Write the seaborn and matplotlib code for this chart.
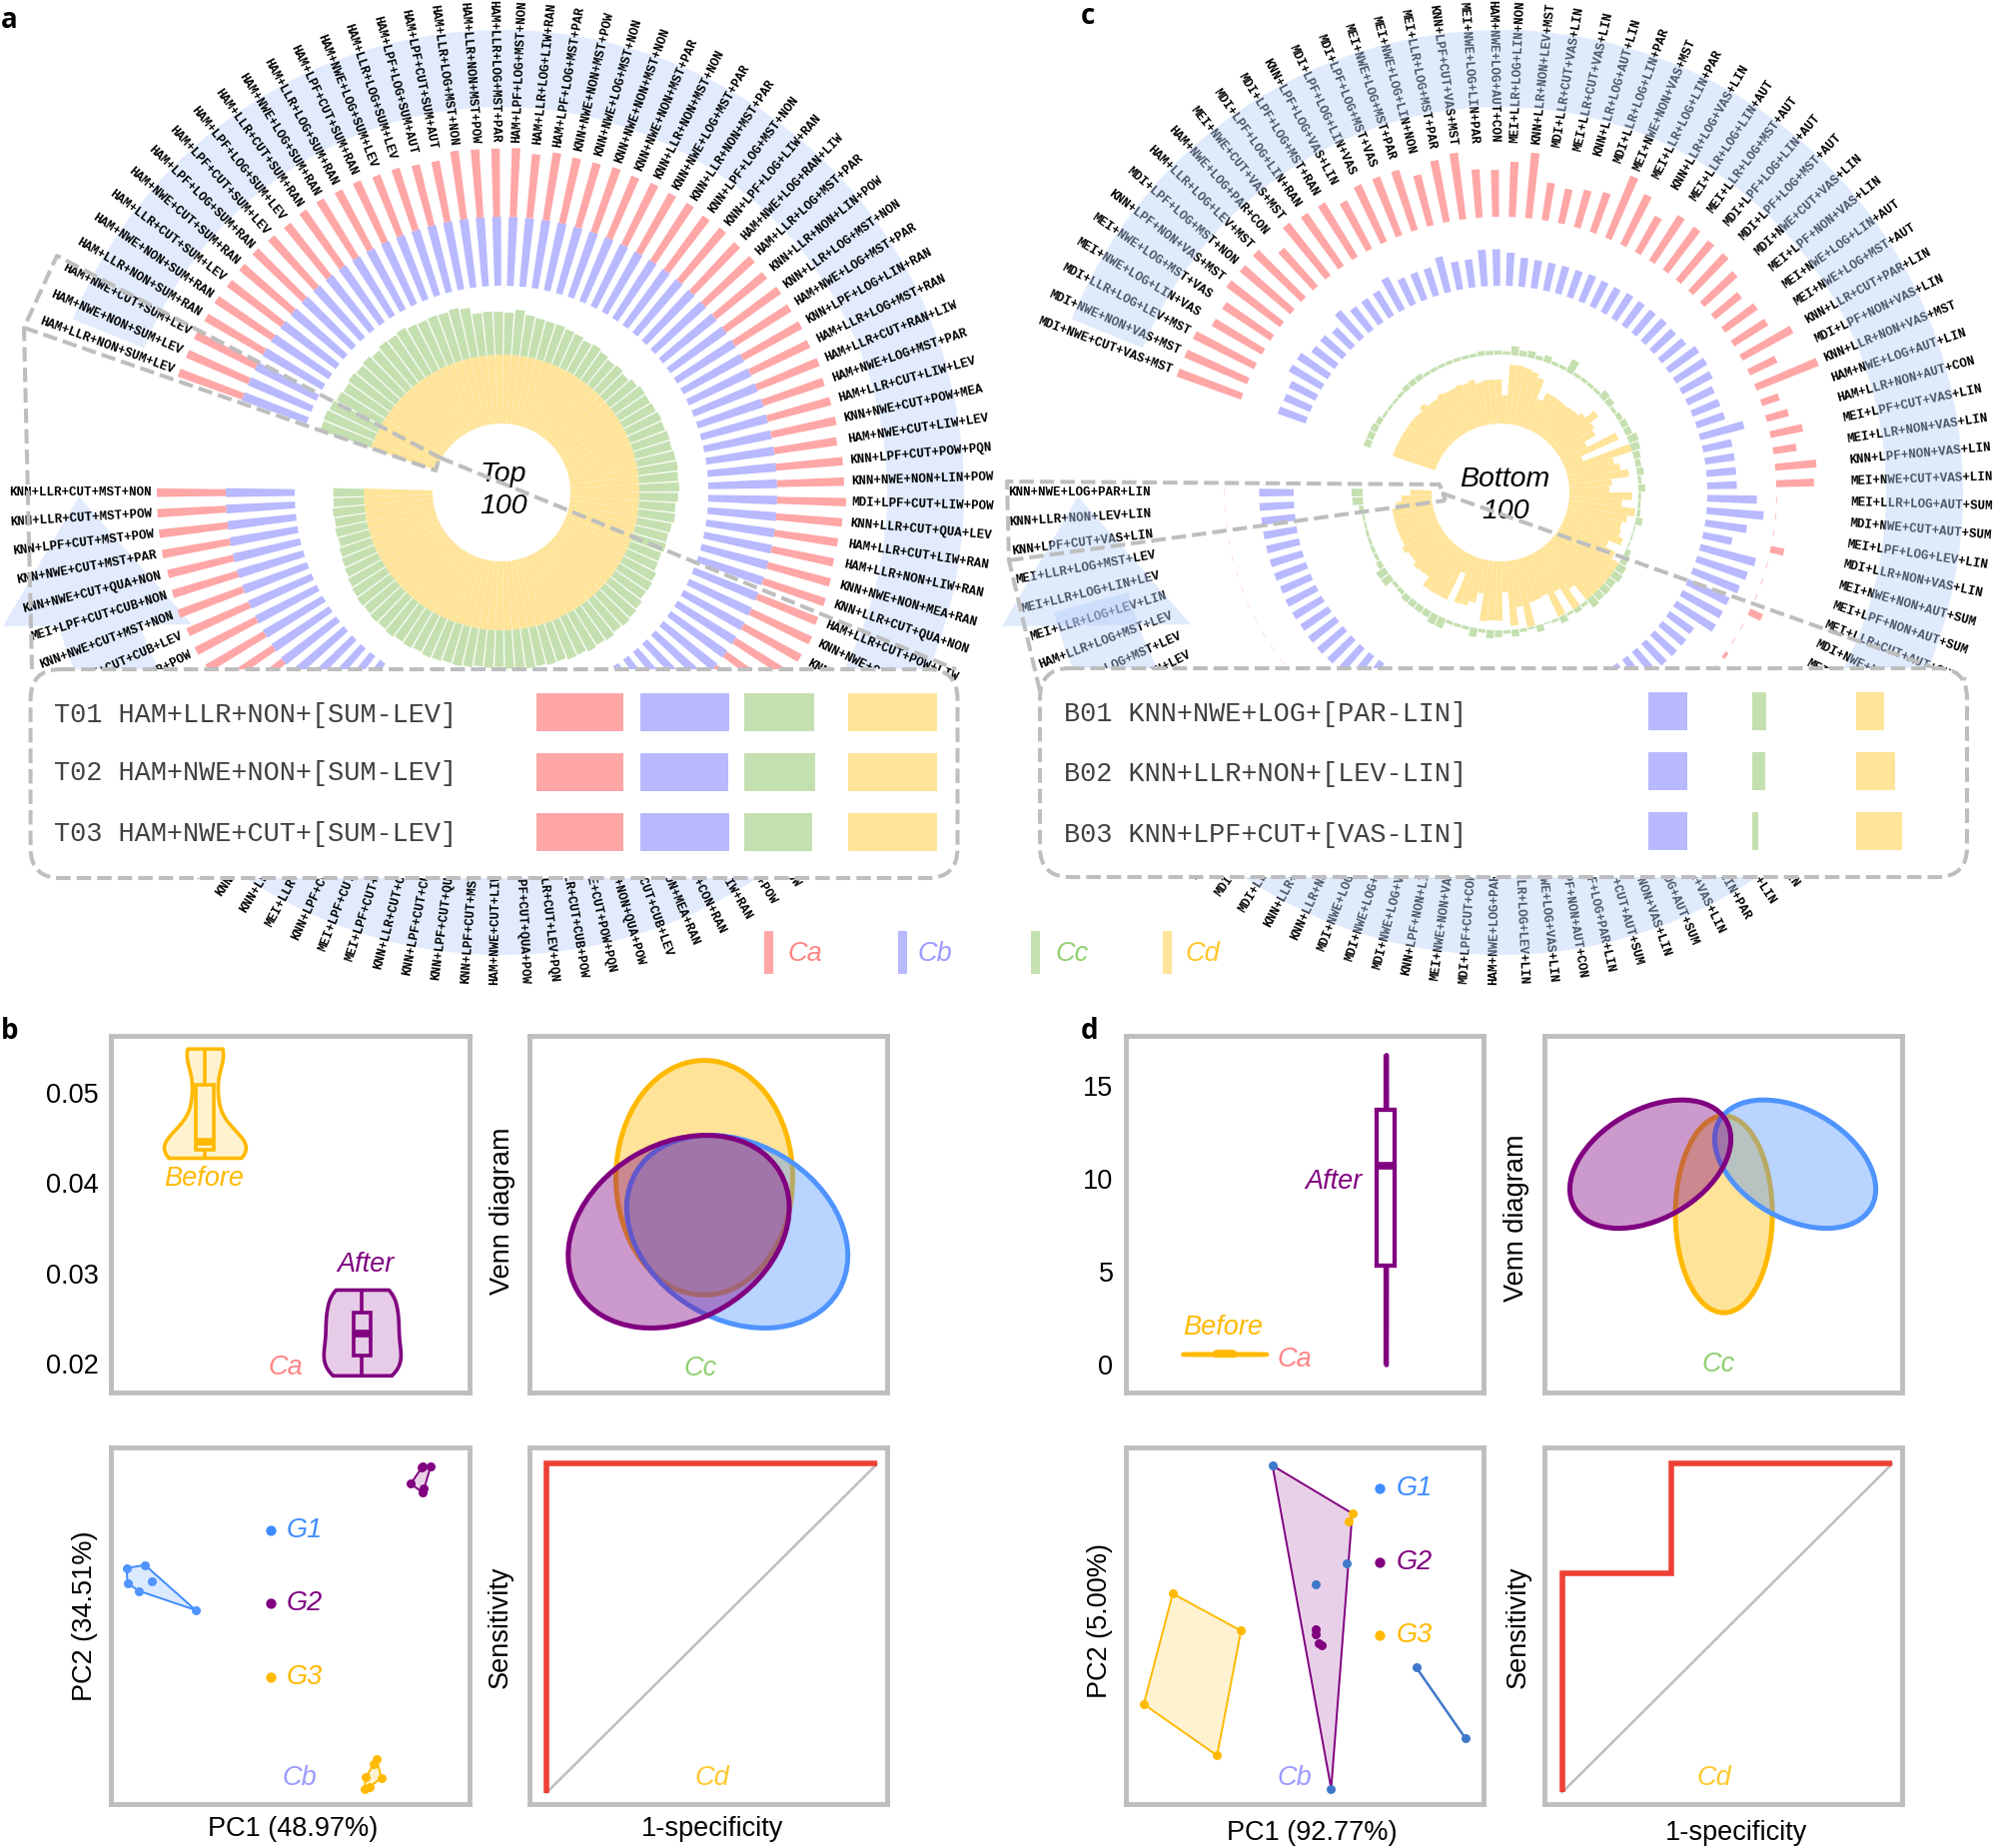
import numpy as np
import pandas as pd
import seaborn as sns
import matplotlib
matplotlib.use("Agg")
import matplotlib.pyplot as plt
from matplotlib.patches import Ellipse, FancyBboxPatch, Rectangle

# ---------------------------------------------------------------- data
a_labels = [
 "HAM+LLR+NON+SUM+LEV","HAM+NWE+NON+SUM+LEV","HAM+NWE+CUT+SUM+LEV","HAM+LLR+NON+SUM+RAN","HAM+NWE+NON+SUM+RAN",
 "HAM+LLR+CUT+SUM+LEV","HAM+NWE+CUT+SUM+RAN","HAM+LPF+LOG+SUM+RAN","HAM+LPF+CUT+SUM+LEV","HAM+LPF+LOG+SUM+LEV",
 "HAM+LLR+CUT+SUM+RAN","HAM+NWE+LOG+SUM+RAN","HAM+LLR+LOG+SUM+RAN","HAM+LPF+CUT+SUM+RAN","HAM+NWE+LOG+SUM+LEV",
 "HAM+LLR+LOG+SUM+LEV","HAM+LPF+LOG+SUM+AUT","HAM+LPF+CUT+SUM+AUT","HAM+LLR+LOG+MST+NON","HAM+LLR+NON+MST+POW",
 "HAM+LLR+LOG+MST+PAR","HAM+LPF+LOG+MST+NON","HAM+LLR+LOG+LIW+RAN","HAM+LPF+LOG+MST+PAR","KNN+NWE+NON+MST+POW",
 "KNN+NWE+LOG+MST+NON","KNN+NWE+NON+MST+NON","KNN+NWE+NON+MST+PAR","KNN+LLR+NON+MST+NON","KNN+NWE+LOG+MST+PAR",
 "KNN+LLR+NON+MST+PAR","KNN+LPF+LOG+MST+NON","KNN+LPF+LOG+LIW+RAN","HAM+NWE+LOG+RAN+LIW","HAM+LLR+LOG+MST+PAR",
 "KNN+LLR+NON+LIN+POW","KNN+LLR+LOG+MST+NON","HAM+NWE+LOG+MST+PAR","KNN+LPF+LOG+LIN+RAN","HAM+LLR+LOG+MST+RAN",
 "HAM+LLR+CUT+RAN+LIW","HAM+NWE+LOG+MST+PAR","HAM+LLR+CUT+LIW+LEV","KNN+NWE+CUT+POW+MEA","HAM+NWE+CUT+LIW+LEV",
 "KNN+LPF+CUT+POW+PQN","KNN+NWE+NON+LIN+POW","MDI+LPF+CUT+LIW+POW","KNN+LLR+CUT+QUA+LEV","HAM+LLR+CUT+LIW+RAN",
 "HAM+LLR+NON+LIW+RAN","KNN+NWE+NON+MEA+RAN","KNN+LLR+CUT+QUA+NON","HAM+LLR+CUT+POW+LIW","KNN+NWE+CUT+POW+LIW",
 "KNN+LPF+NON+MEA+RAN","KNN+LLR+NON+MEA+POW","KNN+NWE+CUT+MEA+RAN","KNN+LPF+CUT+LEV+RAN","KNN+LLR+CUT+MEA+RAN",
 "KNN+NWE+CUT+LEV+POW","KNN+LPF+CUT+QUA+RAN","KNN+LLR+CUT+LIW+POW","KNN+NWE+CUT+LIW+POW","KNN+LLR+CUT+LIW+RAN",
 "KNN+NWE+CUT+CON+RAN","KNN+LPF+NON+MEA+RAN","KNN+NWE+CUT+CUB+LEV","KNN+NWE+NON+QUA+POW","KNN+NWE+CUT+POW+PQN",
 "KNN+LLR+CUT+CUB+POW","KNN+LLR+CUT+LEV+PQN","KNN+LPF+CUT+QUA+POW","HAM+NWE+CUT+LIW+LEV","KNN+LPF+CUT+MST+LEV",
 "KNN+LPF+CUT+QUA+LEV","KNN+LPF+CUT+CUB+LEV","KNN+LLR+CUT+CUB+NON","MEI+LPF+CUT+QUA+NON","MEI+LPF+CUT+CUB+LEV",
 "KNN+LPF+CUT+CUB+NON","MEI+LLR+CUT+QUA+LEV","KNN+LLR+CUT+QUA+POW","KNN+LLR+CUT+MST+LEV","KNN+NWE+CUT+QUA+LEV",
 "MEI+NWE+CUT+QUA+NON","KNN+LPF+CUT+QUA+NON","MEI+LLR+CUT+CUB+NON","KNN+NWE+CUT+CUB+NON","MEI+NWE+CUT+CUB+LEV",
 "MEI+LPF+CUT+MST+NON","KNN+LPF+CUT+CUB+POW","KNN+NWE+CUT+CUB+LEV","KNN+NWE+CUT+MST+NON","MEI+LPF+CUT+CUB+NON",
 "KNN+NWE+CUT+QUA+NON","KNN+NWE+CUT+MST+PAR","KNN+LPF+CUT+MST+POW","KNN+LLR+CUT+MST+POW","KNN+LLR+CUT+MST+NON",
]
a_Ca = [.99,.98,.99,.98,.99,.98,.99,1.0,.98,.97,
        .99,.99,.97,.97,.94,.94,.91,.90,1.0,.99,
        .99,1.0,.93,.99,.97,.97,.99,.97,.99,.98,
        .99,.97,.98,.96,.97,.95,.98,.96,.97,.95,
        .97,.94,.95,.96,.92,.97,.97,1.0,.96,.93,
        .92,.94,.95,.94,.97,.95,.95,.94,.96,.97,
        .95,.96,.94,.97,.95,.96,.94,.95,.97,.96,
        .95,.96,.94,.97,.96,.95,.97,.94,.96,.95,
        .97,.96,.95,.97,.96,.94,.97,.96,.95,.98,
        .97,.99,.98,1.0,.99,.98,1.0,1.0,1.0,1.0]
a_Cb = [1.0,1.0,1.0,1.0,1.0,1.0,1.0,1.0,1.0,1.0,
        1.0,1.0,1.0,1.0,1.0,1.0,1.0,1.0,1.0,1.0,
        1.0,1.0,1.0,1.0,1.0,1.0,1.0,1.0,1.0,1.0,
        1.0,1.0,1.0,1.0,1.0,1.0,1.0,1.0,1.0,1.0,
        1.0,1.0,1.0,1.0,1.0,1.0,1.0,1.0,1.0,1.0,
        1.0,1.0,1.0,1.0,1.0,1.0,1.0,1.0,1.0,1.0,
        1.0,1.0,1.0,1.0,1.0,1.0,1.0,1.0,1.0,1.0,
        1.0,1.0,1.0,1.0,1.0,1.0,1.0,1.0,1.0,1.0,
        1.0,1.0,1.0,1.0,1.0,1.0,1.0,1.0,1.0,1.0,
        1.0,1.0,1.0,1.0,1.0,1.0,1.0,1.0,1.0,1.0]
a_Cc = [.78,.79,.77,.74,.72,.75,.73,.75,.72,.76,
        .75,.77,.74,.73,.74,.73,.75,.72,.62,.63,
        .62,.61,.66,.60,.58,.57,.57,.55,.54,.51,
        .53,.50,.47,.49,.46,.50,.53,.52,.53,.55,
        .54,.56,.55,.57,.58,.57,.58,.56,.53,.54,
        .51,.49,.50,.48,.49,.53,.55,.54,.58,.60,
        .62,.60,.63,.61,.63,.60,.61,.58,.59,.57,
        .58,.55,.56,.53,.55,.54,.57,.59,.58,.60,
        .61,.59,.61,.60,.62,.60,.61,.59,.60,.58,
        .56,.53,.51,.49,.46,.47,.45,.46,.44,.44]
a_Cd = [1.0,1.0,1.0,1.0,1.0,1.0,1.0,1.0,1.0,1.0,
        1.0,1.0,1.0,1.0,1.0,1.0,1.0,1.0,1.0,1.0,
        1.0,1.0,1.0,1.0,1.0,1.0,1.0,1.0,1.0,1.0,
        1.0,1.0,1.0,1.0,1.0,1.0,1.0,1.0,1.0,1.0,
        1.0,1.0,1.0,1.0,1.0,1.0,1.0,1.0,1.0,1.0,
        1.0,1.0,1.0,1.0,1.0,1.0,1.0,1.0,1.0,1.0,
        1.0,1.0,1.0,1.0,1.0,1.0,1.0,1.0,1.0,1.0,
        1.0,1.0,1.0,1.0,1.0,1.0,1.0,1.0,1.0,1.0,
        1.0,1.0,1.0,1.0,1.0,1.0,1.0,1.0,1.0,1.0,
        1.0,1.0,1.0,1.0,1.0,1.0,1.0,1.0,1.0,1.0]

c_labels = [
 "MDI+NWE+CUT+VAS+MST","MDI+NWE+NON+VAS+MST","MDI+LLR+LOG+LEV+MST","MEI+NWE+LOG+LIN+VAS","MEI+NWE+LOG+MST+VAS",
 "KNN+LPF+NON+VAS+MST","MDI+LPF+LOG+MST+NON","HAM+LLR+LOG+LEV+MST","HAM+NWE+LOG+PAR+CON","MEI+NWE+CUT+VAS+MST",
 "MDI+LPF+LOG+LIN+RAN","MDI+LPF+LOG+MST+RAN","KNN+LPF+LOG+VAS+LIN","MDI+LPF+LOG+LIN+VAS","MDI+LPF+LOG+MST+VAS",
 "MEI+NWE+LOG+MST+PAR","MEI+NWE+LOG+LIN+NON","MEI+LLR+LOG+MST+PAR","KNN+LPF+CUT+VAS+MST","MEI+NWE+LOG+LIN+PAR",
 "HAM+NWE+LOG+AUT+CON","MEI+LLR+LOG+LIN+NON","KNN+LLR+NON+LEV+MST","MDI+LLR+CUT+VAS+LIN","MEI+LLR+CUT+VAS+LIN",
 "KNN+LLR+LOG+AUT+LIN","MDI+LLR+LOG+LIN+PAR","MEI+NWE+NON+VAS+MST","MEI+LLR+LOG+LIN+PAR","KNN+LLR+LOG+VAS+LIN",
 "MEI+LLR+LOG+LIN+AUT","MEI+LLR+LOG+MST+AUT","MDI+LPF+LOG+LIN+AUT","MDI+LPF+LOG+MST+AUT","MDI+NWE+CUT+VAS+LIN",
 "MEI+LPF+NON+VAS+LIN","MEI+NWE+LOG+LIN+AUT","MEI+NWE+LOG+MST+AUT","KNN+LLR+CUT+PAR+LIN","MDI+LPF+NON+VAS+LIN",
 "KNN+LLR+NON+VAS+MST","HAM+NWE+LOG+AUT+LIN","HAM+LLR+NON+AUT+CON","MEI+LPF+CUT+VAS+LIN","MEI+LLR+NON+VAS+LIN",
 "KNN+LPF+NON+VAS+LIN","MEI+NWE+CUT+VAS+LIN","MEI+LLR+LOG+AUT+SUM","MDI+NWE+CUT+AUT+SUM","MEI+LPF+LOG+LEV+LIN",
 "MDI+LLR+NON+VAS+LIN","MEI+NWE+NON+AUT+SUM","MEI+LPF+NON+AUT+SUM","MEI+LLR+CUT+AUT+SUM","MDI+NWE+NON+AUT+SUM",
 "MEI+NWE+LOG+AUT+SUM","MDI+LPF+NON+AUT+SUM","MDI+LLR+NON+AUT+SUM","MEI+LLR+NON+AUT+SUM","MDI+LPF+CUT+AUT+SUM",
 "MEI+LPF+CUT+AUT+SUM","MDI+LLR+LOG+AUT+SUM","MEI+NWE+LOG+VAS+LIN","MEI+LLR+LOG+VAS+LIN","MDI+LLR+LOG+LIN+PAR",
 "KNN+LLR+NON+VAS+LIN","MEI+NWE+LOG+AUT+SUM","MEI+NWE+NON+VAS+LIN","MDI+LLR+CUT+AUT+SUM","MDI+LPF+LOG+PAR+LIN",
 "MDI+LPF+NON+AUT+CON","MEI+NWE+LOG+VAS+LIN","MEI+LLR+LOG+LEV+LIN","HAM+NWE+LOG+PAR+LIN","MDI+LPF+CUT+CON+LIN",
 "MEI+NWE+NON+VAS+PAR","KNN+LPF+NON+LIN+VAS","MDI+NWE+LOG+VAS+PAR","MDI+NWE+LOG+LEV+PAR","MDI+NWE+LOG+LIN+PAR",
 "KNN+LLR+NON+PAR+LIN","KNN+LLR+LOG+PAR+LIN","MDI+LLR+NON+LIN+SUM","MDI+LLR+CUT+LEV+LIN","MEI+LPF+NON+LEV+LIN",
 "KNN+LPF+NON+LEV+LIN","MDI+NWE+LOG+PAR+LEV","MEI+LPF+LOG+PAR+LIN","KNN+LPF+LOG+LEV+LIN","MDI+LPF+LOG+PAR+LEV",
 "KNN+LLR+LOG+LIN+NON","MDI+LPF+LOG+LIN+LEV","MDI+LPF+LOG+MST+LEV","HAM+LLR+LOG+MST+LEV","MEI+LLR+LOG+LEV+LIN",
 "MEI+LLR+LOG+LIN+LEV","MEI+LLR+LOG+MST+LEV","KNN+LPF+CUT+VAS+LIN","KNN+LLR+NON+LEV+LIN","KNN+NWE+LOG+PAR+LIN",
]
c_Ca = [.99,.99,.99,.84,.84,.97,.96,.97,.74,.97,
        .93,.92,.79,.91,.91,.91,.76,.91,.97,.70,
        .68,.80,.95,.55,.51,.56,.61,.97,.81,.60,
        .78,.77,.74,.74,.65,.50,.58,.58,.84,.44,
        .97,.27,.33,.48,.34,.60,.55,.01,.01,.01,
        .20,.01,.01,.01,.20,.01,.01,.05,.01,.01,
        .01,.03,.01,.01,.01,.01,.01,.01,.01,.01,
        .005,.005,.005,.005,.005,.005,.005,.005,.005,.005,
        .005,.005,.005,.005,.005,.005,.005,.005,.005,.005,
        .005,.005,.005,.005,.005,.005,.005,.005,.005,.005]
c_Cb = [.43,.42,.43,.54,.53,.42,.42,.37,.52,.42,
        .42,.42,.53,.42,.42,.42,.53,.41,.41,.53,
        .53,.48,.42,.41,.41,.41,.41,.42,.41,.41,
        .43,.43,.43,.44,.43,.45,.53,.53,.50,.43,
        .43,.43,.66,.43,.43,.43,.43,.72,.83,.61,
        .43,.83,.77,.73,.66,.66,.67,.43,.44,.44,
        .43,.44,.43,.43,.44,.43,.43,.44,.43,.43,
        .44,.43,.43,.44,.43,.45,.44,.45,.46,.45,
        .46,.47,.47,.48,.48,.49,.48,.49,.49,.48,
        .49,.49,.48,.49,.49,.49,.49,.49,.50,.50]
c_Cc = [.10,.10,.10,.08,.04,.04,.04,.05,.08,.08,
        .08,.05,.05,.05,.05,.05,.05,.05,.07,.06,
        .06,.05,.13,.08,.10,.06,.10,.05,.05,.20,
        .05,.05,.05,.05,.12,.10,.05,.08,.10,.10,
        .15,.13,.10,.08,.10,.05,.10,.04,.04,.05,
        .10,.02,.02,.02,.08,.10,.13,.15,.12,.13,
        .12,.15,.05,.07,.04,.10,.04,.02,.10,.03,
        .05,.10,.05,.10,.12,.05,.13,.05,.05,.05,
        .15,.15,.10,.10,.10,.10,.06,.05,.15,.15,
        .08,.05,.05,.04,.04,.03,.03,.065,.15,.16]
c_Cd = [.65,.65,.65,.65,.65,.65,.65,.64,.70,.64,
        .64,.67,.65,.65,.67,.65,.68,.62,.64,.64,
        .64,.41,.86,.86,.84,.81,.75,.46,.59,.59,
        .58,.57,.58,.59,.64,.80,.65,.61,.42,.88,
        .28,1.0,.70,.77,.88,.62,.58,.91,.77,.97,
        .87,.81,.83,.90,.72,.88,1.0,1.0,1.0,1.0,
        1.0,1.0,.72,1.0,.64,.99,.62,.64,.65,.99,
        .68,.94,.45,.86,.86,.88,.49,.64,.71,.72,
        .28,.74,.74,.75,.75,.61,.62,.64,.59,.59,
        .64,.59,.59,.59,.59,.59,.59,.52,.44,.31]

# inset tables: Ca, Cb, Cc, Cd
top_rows = ["T01 HAM+LLR+NON+[SUM-LEV]", "T02 HAM+NWE+NON+[SUM-LEV]", "T03 HAM+NWE+CUT+[SUM-LEV]"]
top_vals = [[.98, 1.0, .79, 1.0], [.98, .995, .80, 1.0], [.985, 1.0, .77, 1.0]]
bot_rows = ["B01 KNN+NWE+LOG+[PAR-LIN]", "B02 KNN+LLR+NON+[LEV-LIN]", "B03 KNN+LPF+CUT+[VAS-LIN]"]
bot_vals = [[0, .445, .157, .315], [0, .445, .15, .445], [0, .445, .07, .515]]

# violin samples
b_before = [.0428,.0429,.0430,.0431,.0432,.0433,.0435,.0436,.0437,.0438,.0439,.0440,.0441,.0442,.0443,.0445,
            .0446,.0452,.0462,.0475,.0488,.0498,.0499,.0501,.0530,.0540,.0545,.0547,.0548,.0549,.0549,.0549]
b_after = [.0187,.0188,.0190,.0198,.0209,.0212,.0217,.0224,.0233,.0240,.0247,.0252,.0257,.0268,.0278,.0281,.0282]
d_before = [.47,.50,.57,.64,.67]
d_before_violin = [.55,.56,.57,.58,.59]
d_after = [0,5.3,10.7,13.7,16.65]

# PCA scatter
b_g1 = ([4.4,9.5,4.6,7.7,11.3,23.6],[66.2,67.0,62.0,59.8,62.5,54.4])
b_g2 = ([86.7,89.2,87.0,83.6,87.2,87.0],[94.3,94.8,94.8,89.8,88.5,87.3])
b_g3 = ([74.1,73.3,71.1,75.4,72.1,70.7],[12.7,11.2,7.5,7.3,4.8,4.2])
b_hull1 = ([4.4,9.5,23.6,7.7,4.6],[66.2,67.0,54.4,59.8,62.0])
b_hull2 = ([87.0,89.2,87.0,83.6],[94.8,94.8,87.3,89.8])
b_hull3 = ([74.1,75.4,72.1,70.7,71.1],[12.7,7.3,4.8,4.2,7.5])
d_g1 = ([41.0,57.4,61.7,53.1,81.2,94.9],[94.9,4.3,67.6,61.6,38.3,18.5])
d_g2 = ([53.1,53.1,53.9,54.7],[48.9,47.7,45.0,44.5])
d_g3 = ([63.3,62.3,13.1,32.2,25.5,5.0],[81.5,79.2,59.0,48.6,13.6,28.0])
d_hull_g2 = ([41.0,63.3,57.4],[94.9,81.5,4.3])
d_hull_g3 = ([13.1,32.2,25.5,5.0],[59.0,48.6,13.6,28.0])
d_seg_g1 = ([81.2,94.9],[38.3,18.5])

# ROC curves
b_fpr, b_tpr = [0,0,1],[0,1,1]
d_fpr, d_tpr = [0,0,.33,.33,1],[0,.667,.667,1,1]

# ---------------------------------------------------------------- style
sns.set_theme(style="white")
plt.rcParams["font.family"] = ["Liberation Sans", "DejaVu Sans"]
W, H = 1995, 1850
RED, BLU, GRN, YEL = "#FFA6A6", "#B8B9FF", "#C5E0B0", "#FFE499"
T_CA, T_CB, T_CC, T_CD = "#FF8585", "#9B9BFF", "#90D070", "#FFC82E"
GOLD, PUR, SKY = "#FFB900", "#800080", "#4F94FF"
GREY = "#BEBEBE"
FS = 19.5

fig = plt.figure(figsize=(W/100, H/100), dpi=100, facecolor="white")

def rect(l, t, r, b):
    return [l/W, 1-b/H, (r-l)/W, (b-t)/H]

# ---------------------------------------------------------------- circular panels
RING = 69.0
RMAX = 540.0
STEP = 3.43
TH0 = 159.6

def circular(cx, cy, labels, Ca, Cb, Cc, Cd, band_on_top):
    assert len(labels) == len(Ca) == len(Cb) == len(Cc) == len(Cd) == 100
    ax = fig.add_axes(rect(cx-RMAX, cy-RMAX, cx+RMAX, cy+RMAX), polar=True, zorder=1)
    ax.patch.set_alpha(0)
    ax.axis("off")
    ax.set_ylim(0, RMAX/RING)
    ax.set_xlim(0, 2*np.pi)
    deg = TH0 - STEP*np.arange(100)
    th = np.deg2rad(deg)
    ax.bar(th, Cd, width=np.deg2rad(3.36), bottom=1, color=YEL, linewidth=0, zorder=3)
    ax.bar(th, Cc, width=np.deg2rad(3.0), bottom=2, color=GRN, linewidth=0, zorder=3)
    ax.bar(th, Cb, width=np.deg2rad(1.85), bottom=3, color=BLU, linewidth=0, zorder=3)
    ax.bar(th, Ca, width=np.deg2rad(1.42), bottom=4, color=RED, linewidth=0, zorder=3)
    # circular arrow behind / over the labels
    if band_on_top:
        bcol, balpha, bz = (.71, .81, .976), .42, 6
    else:
        bcol, balpha, bz = "#E1EBFD", 1, 2
    ax.bar(np.deg2rad(-3.5), (463-386)/RING, width=np.deg2rad(323), bottom=386/RING,
           color=bcol, alpha=balpha, linewidth=0, zorder=bz)
    tri = np.array([[-423, -4], [-499, -134], [-310, -132]], float)
    ax.fill(np.arctan2(tri[:, 1], tri[:, 0]), np.hypot(tri[:, 0], tri[:, 1])/RING,
            color=bcol, alpha=balpha, linewidth=0, zorder=bz)
    for d, lab in zip(deg, labels):
        a = ((d + 180) % 360) - 180
        right = -90 <= a <= 90
        ax.text(np.deg2rad(d), 350.5/RING, lab, rotation=a if right else a+180,
                rotation_mode="anchor", ha="left" if right else "right", va="center",
                family="Liberation Mono", weight="bold", fontsize=9.0, color="black",
                zorder=4, clip_on=False)
    return ax

circular(502, 493, a_labels, a_Ca, a_Cb, a_Cc, a_Cd, False)
circular(1502, 493, c_labels, c_Ca, c_Cb, c_Cc, c_Cd, True)

# ---------------------------------------------------------------- overlay (callouts, legend, letters)
ov = fig.add_axes([0, 0, 1, 1], zorder=2)
ov.set_xlim(0, W); ov.set_ylim(H, 0); ov.axis("off"); ov.patch.set_alpha(0)
dash = (0, (3.6, 1.5))
def dline(xs, ys):
    ov.plot(xs, ys, color=GREY, lw=2.9, ls=dash, dash_capstyle="butt", solid_joinstyle="miter", zorder=3)

for x, y, s in [(504, 475, "Top"), (504, 507, "100"), (1506, 480, "Bottom"), (1507, 512, "100")]:
    ov.text(x, y, s, style="italic", fontsize=FS+1, ha="center", va="center", color="black", zorder=3)

dline([32, 24, 57, 440], [670, 328, 256, 458])
dline([24, 436, 440], [328, 471, 458])
dline([440, 957], [458, 670])
dline([1041, 1010, 1008, 1441, 1447], [692, 561, 482, 485, 501])
dline([1010, 1447], [561, 501])
dline([1443, 1968], [493.6, 680])

for x0, y0, x1, y1 in [(30.6, 670, 958.5, 879), (1041, 669, 1969, 878)]:
    ov.add_patch(FancyBboxPatch((x0, y0), x1-x0, y1-y0, boxstyle="round,pad=0,rounding_size=30",
                                fc="white", ec=GREY, lw=2.9, ls=dash, zorder=5))

for y, s in zip([716, 774, 835], top_rows):
    ov.text(54, y, s, family="Liberation Mono", fontsize=19.4, color="#404040", va="center", ha="left", zorder=6)
for y, s in zip([715, 775, 836], bot_rows):
    ov.text(1065, y, s, family="Liberation Mono", fontsize=19.4, color="#404040", va="center", ha="left", zorder=6)

for x, col, tx, s, tc in [(765, RED, 789, "Ca", T_CA), (899, BLU, 918, "Cb", T_CB),
                          (1032, GRN, 1056, "Cc", T_CC), (1164, YEL, 1186, "Cd", T_CD)]:
    ov.add_patch(Rectangle((x, 932), 9, 43, fc=col, ec="none"))
    ov.text(tx, 955, s, style="italic", fontsize=FS, color=tc, va="center", ha="left")

for x, y, s in [(1, 20, "a"), (1082, 16, "c"), (1, 1033, "b"), (1082, 1033, "d")]:
    ov.text(x, y, s, family="Open Sans", weight="bold", fontsize=20, color="black", va="center", ha="left")

# inset bars
def inset(x0, rows0, vals):
    FULL = 88.6
    l, r = x0, x0 + 420
    t, b = rows0 - 33, rows0 + 155
    ax = fig.add_axes(rect(l, t, r, b), zorder=3)
    ax.patch.set_alpha(0)
    ax.axis("off")
    ax.set_xlim(0, 420/FULL)
    ax.set_ylim(2 + (b-rows0-120)/60, -33/60)
    offs = [0, 1.174, 2.348, 3.522]
    for j, col in enumerate([RED, BLU, GRN, YEL]):
        v = [row[j] for row in vals]
        ax.barh([0, 1, 2], v, left=offs[j], height=.64, color=col, linewidth=0)

inset(537, 713, top_vals)
inset(1546, 712, bot_vals)

# ---------------------------------------------------------------- lower panels
def box(l, t, r, b):
    ax = fig.add_axes(rect(l, t, r, b), zorder=1)
    ax.set_facecolor("white")
    for s in ax.spines.values():
        s.set_color(GREY); s.set_linewidth(3.5); s.set_visible(True)
    ax.set_xticks([]); ax.set_yticks([])
    ax.tick_params(length=0)
    ax._px = (l, t, r, b)
    return ax

def labels(ax, xlabel=None, xpos=None, ylabel=None, ypos=None):
    l, t, r, b = ax._px
    ax.set_xlabel(xlabel or "", fontsize=FS, color="black", va="center", ha="center")
    ax.set_ylabel(ylabel or "", fontsize=FS, color="black", va="center", ha="center")
    ax.xaxis.label.set_visible(True)
    ax.yaxis.label.set_visible(True)
    if xlabel:
        ax.xaxis.set_label_coords((xpos[0]-l)/(r-l), (b-xpos[1])/(b-t))
    if ylabel:
        ax.yaxis.set_label_coords((ypos[0]-l)/(r-l), (b-ypos[1])/(b-t))

def tag(ax, x, y, s, col, ha="center"):
    l, t, r, b = ax._px
    ax.text((x-l)/(r-l), (b-y)/(b-t), s, transform=ax.transAxes, style="italic",
            fontsize=FS, color=col, ha=ha, va="center", zorder=6)

ORDER = ["Before", "After"]
def violins(ax, groups, lw):
    for g, vio, bxp, col, fc, bfc, w, wb in groups:
        dv = pd.DataFrame({"group": [g]*len(vio), "value": vio})
        db = pd.DataFrame({"group": [g]*len(bxp), "value": bxp})
        sns.violinplot(data=dv, x="group", y="value", order=ORDER, color=fc, saturation=1,
                       linecolor=col, linewidth=lw, inner=None, cut=0, width=w,
                       density_norm="width", bw_adjust=wb, ax=ax)
        sns.boxplot(data=db, x="group", y="value", order=ORDER, color=bfc, saturation=1, fill=True,
                    linecolor=col, width=.11, whis=(0, 100), linewidth=lw, fliersize=0, showcaps=False,
                    medianprops={"linewidth": 5.5}, ax=ax)
    ax.set_xlabel(""); ax.set_ylabel("")
    ax.set_xticks([])

def ticks(ax, vals, fmt):
    ax.set_yticks(vals)
    ax.set_yticklabels([fmt % v for v in vals], fontsize=FS, color="black")
    ax.tick_params(axis="y", length=0, pad=9)

def venn(ax, ells):
    l, t, r, b = ax._px
    ax.set_xlim(l, r); ax.set_ylim(b, t)
    for (cx, cy, w, h, ang, col) in ells:
        ax.add_patch(Ellipse((cx, cy), w, h, angle=ang, fc=matplotlib.colors.to_rgba(col, .4),
                             ec=col, lw=3.6))

def pca(ax, pts, hulls, segs, legend_x, legend_y, text_x):
    ax.set_xlim(0, 100); ax.set_ylim(0, 100)
    for (hx, hy, c) in hulls:
        ax.fill(hx, hy, fc=matplotlib.colors.to_rgba(c, .18), ec=c, lw=1.4, zorder=2)
    for (sx, sy, c) in segs:
        sns.lineplot(x=sx, y=sy, color=c, lw=1.8, sort=False, estimator=None, ax=ax, zorder=2)
    for (px, py, c) in pts:
        sns.scatterplot(x=px, y=py, color=c, s=42, linewidth=0, ax=ax, zorder=3)
    for y, s, c in zip(legend_y, ["G1", "G2", "G3"], ["#3F8CFF", PUR, GOLD]):
        sns.scatterplot(x=[legend_x], y=[y], color=c, s=55, linewidth=0, ax=ax, zorder=3)
        ax.text(text_x, y, s, style="italic", fontsize=FS, color=c, va="center", ha="left")
    ax.set_xticks([]); ax.set_yticks([])

def roc(ax, fpr, tpr, xl, yl):
    ax.set_xlim(*xl); ax.set_ylim(*yl)
    sns.lineplot(x=[0, 1], y=[0, 1], color=GREY, lw=1.8, sort=False, estimator=None, ax=ax)
    sns.lineplot(x=fpr, y=tpr, color="#EE4035", lw=4, sort=False, estimator=None, ax=ax,
                 solid_joinstyle="miter", solid_capstyle="butt")
    ax.set_xticks([]); ax.set_yticks([])

# panel b
T1, B1, T2, B2 = 1037, 1394, 1449, 1806
ax = box(111, T1, 470, B1)
violins(ax, [("Before", b_before, b_before, GOLD, "#FFF3CF", "#FFF3CF", .52, .9),
             ("After", b_after, b_after, PUR, "#E6CCE6", "#E6CCE6", .49, .85)], 2.6)
ax.set_xlim(-.597, 1.684); ax.set_ylim(.0168, .0563)
ticks(ax, [.02, .03, .04, .05], "%.2f")
tag(ax, 204, 1180, "Before", GOLD); tag(ax, 366, 1266, "After", PUR); tag(ax, 286, 1369, "Ca", T_CA)

ax = box(529.7, T1, 888, B1)
venn(ax, [(705, 1179, 177, 235, 0, GOLD), (738, 1233, 235, 176, 30.5, SKY), (679.4, 1233, 235, 176, -30.5, PUR)])
tag(ax, 701, 1370, "Cc", T_CC)
labels(ax, ylabel="Venn diagram", ypos=(502.5, 1212))

ax = box(111, T2, 470, B2)
pca(ax, [(*b_g1, SKY), (*b_g2, PUR), (*b_g3, GOLD)],
    [(*b_hull1, "#3F8CFF"), (*b_hull2, PUR), (*b_hull3, GOLD)], [], 44.6, [76.8, 56.2, 35.6], 49)
tag(ax, 299.5, 1780, "Cb", T_CB)
labels(ax, xlabel="PC1 (48.97%)", xpos=(293, 1831), ylabel="PC2 (34.51%)", ypos=(84.5, 1618))

ax = box(529.7, T2, 888, B2)
roc(ax, b_fpr, b_tpr, (-.052, 1.03), (-.034, 1.05))
tag(ax, 713, 1780, "Cd", T_CD)
labels(ax, xlabel="1-specificity", xpos=(713, 1831), ylabel="Sensitivity", ypos=(501, 1629))

# panel d
ax = box(1127, T1, 1485, B1)
violins(ax, [("Before", d_before_violin, d_before, GOLD, "#FFF3CF", GOLD, .52, 1),
             ("After", d_after, d_after, PUR, "#E6CCE6", "white", .006, 1)], 3.1)
ax.set_xlim(-.611, 1.604); ax.set_ylim(-1.5, 17.66)
ticks(ax, [0, 5, 10, 15], "%d")
tag(ax, 1224, 1329, "Before", GOLD); tag(ax, 1335, 1183, "After", PUR); tag(ax, 1296, 1361, "Ca", T_CA)

ax = box(1546, T1, 1904, B1)
venn(ax, [(1725.6, 1215.6, 97, 197, 0, GOLD), (1797, 1165.4, 175, 109, 29.8, SKY), (1652, 1165.4, 175, 109, -29.8, PUR)])
tag(ax, 1720, 1366, "Cc", T_CC)
labels(ax, ylabel="Venn diagram", ypos=(1518, 1219))

ax = box(1127, T2, 1485, B2)
pca(ax, [(*d_g1, "#3F78C8"), (*d_g2, PUR), (*d_g3, GOLD)],
    [(*d_hull_g2, PUR), (*d_hull_g3, GOLD)], [(*d_seg_g1, "#3F78C8")], 70.9, [88.5, 67.9, 47.2], 75.7)
tag(ax, 1296, 1780, "Cb", T_CB)
labels(ax, xlabel="PC1 (92.77%)", xpos=(1313, 1835), ylabel="PC2 (5.00%)", ypos=(1100.5, 1623))

ax = box(1546, T2, 1904, B2)
roc(ax, d_fpr, d_tpr, (-.053, 1.03), (-.035, 1.05))
tag(ax, 1716, 1780, "Cd", T_CD)
labels(ax, xlabel="1-specificity", xpos=(1738, 1835), ylabel="Sensitivity", ypos=(1520, 1629))

fig.savefig("out.png", dpi=100, facecolor="white")
